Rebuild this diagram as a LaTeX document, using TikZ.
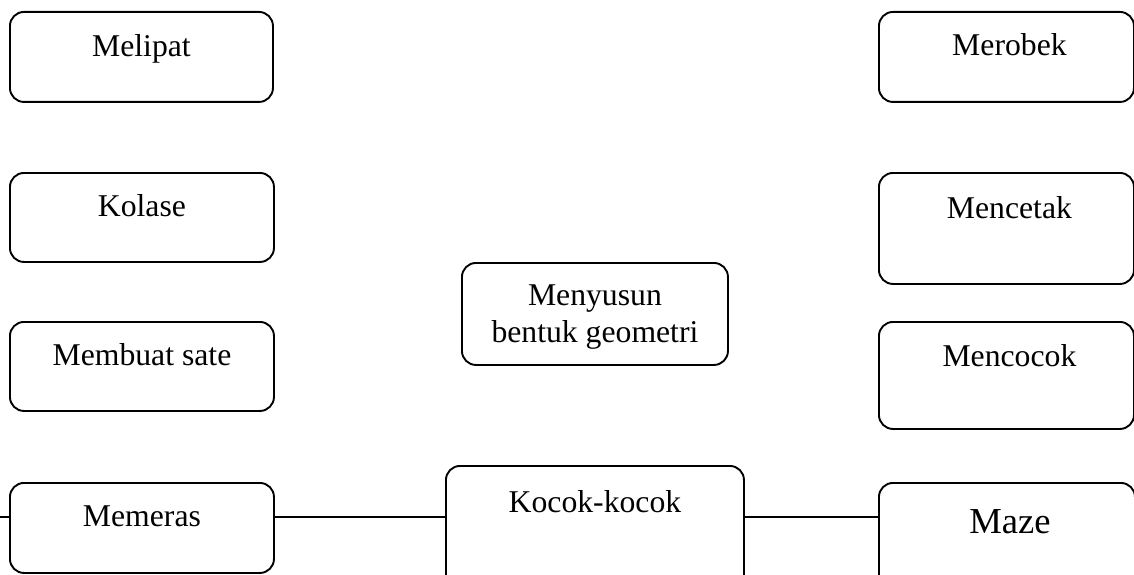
\documentclass[tikz,border=0pt]{standalone}
\usepackage{fontspec}
\setmainfont{Liberation Serif}
\begin{document}
\begin{tikzpicture}[x=1pt,y=-1pt,
  box/.style={draw, line width=1.9pt, rounded corners=14pt, inner sep=0pt, anchor=north west},
  lbl/.style={font=\fontsize{31.7}{37}\selectfont, anchor=base, inner sep=0pt, align=center},
  conn/.style={line width=1.9pt}]
\useasboundingbox (0,0) rectangle (1134,575);
\clip (0,0) rectangle (1134,575);
% left column
\node[box, minimum width=263pt, minimum height=90pt] (melipat) at (9,11) {};
\node[box, minimum width=264pt, minimum height=89pt] (kolase) at (9,172) {};
\node[box, minimum width=264pt, minimum height=89pt] (sate) at (9,321) {};
\node[box, minimum width=264pt, minimum height=90pt] (memeras) at (9,482) {};
% middle
\node[box, minimum width=266pt, minimum height=102pt] (menyusun) at (461,262) {};
\node[box, minimum width=298pt, minimum height=140pt] (kocok) at (445,465) {};
% right column
\node[box, minimum width=255pt, minimum height=90pt] (merobek) at (878,11) {};
\node[box, minimum width=255pt, minimum height=111pt] (mencetak) at (878,172) {};
\node[box, minimum width=255pt, minimum height=107pt] (mencocok) at (878,321) {};
\node[box, minimum width=256pt, minimum height=130pt] (maze) at (878,482) {};
% labels
\node[lbl] (t-melipat) at ([yshift=-46pt]melipat.north) {Melipat};
\node[lbl] (t-kolase) at ([yshift=-44pt]kolase.north) {Kolase};
\node[lbl] (t-sate) at ([yshift=-44pt]sate.north) {Membuat sate};
\node[lbl] (t-memeras) at ([yshift=-44pt]memeras.north) {Memeras};
\node[lbl] (t-menyusun) at ([yshift=-80pt]menyusun.north) {Menyusun\\bentuk geometri};
\node[lbl] (t-kocok) at ([yshift=-47pt]kocok.north) {Kocok-kocok};
\node[lbl] (t-merobek) at ([xshift=3pt,yshift=-45pt]merobek.north) {Merobek};
\node[lbl] (t-mencetak) at ([xshift=3pt,yshift=-46pt]mencetak.north) {Mencetak};
\node[lbl] (t-mencocok) at ([xshift=3pt,yshift=-45pt]mencocok.north) {Mencocok};
\node[lbl, font=\fontsize{36.6}{42}\selectfont] (t-maze) at ([xshift=3pt,yshift=-51pt]maze.north) {Maze};
% connectors
\coordinate (lineL) at (0,517);
\draw[conn] (lineL) -- (memeras.west |- lineL);
\draw[conn] (memeras.east |- lineL) -- (kocok.west |- lineL);
\draw[conn] (kocok.east |- lineL) -- (maze.west |- lineL);
\end{tikzpicture}
\end{document}
